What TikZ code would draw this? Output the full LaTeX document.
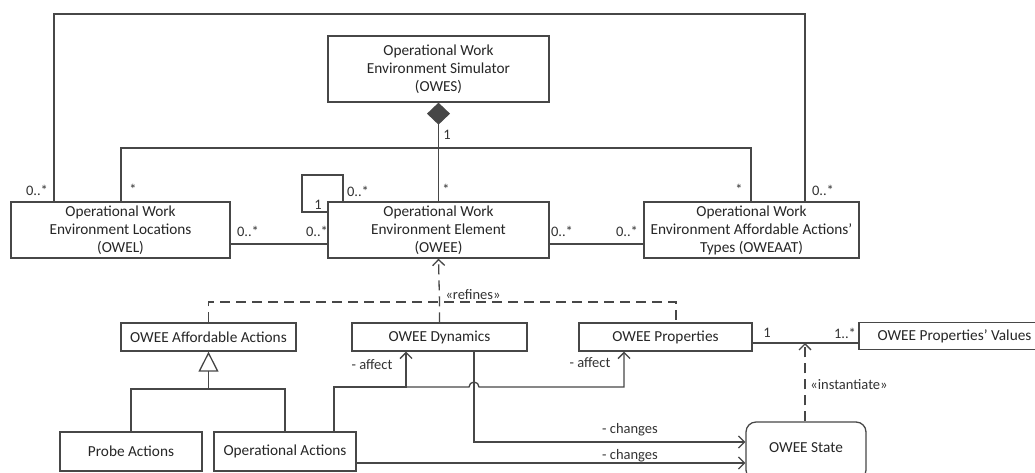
\documentclass[tikz,border=0pt]{standalone}
\usepackage{fontspec}
\setmainfont{Carlito}
\usetikzlibrary{arrows.meta}
\begin{document}
\begin{tikzpicture}[x=1pt,y=-1pt,
  ln/.style={line width=1.3pt,draw=black!72},
  dsh/.style={dash pattern=on 10pt off 6pt},
  cls/.style={ln,rectangle,fill=white,text=black!85,align=center,font=\fontsize{15.3}{18}\selectfont,inner sep=0pt},
  lbl/.style={text=black!80,font=\fontsize{14.5}{17}\selectfont,inner sep=0pt},
  openarr/.style={-{Straight Barb[length=6pt,width=12pt]}},
]
\clip (0,0) rectangle (1035,472);
\fill[white] (0,0) rectangle (1035,472);

% classes
\node[cls,minimum width=221pt,minimum height=66pt] (owes) at (438.5,69) {Operational Work\\Environment Simulator\\(OWES)};
\node[cls,minimum width=219pt,minimum height=56pt] (owel) at (120.5,230) {Operational Work\\Environment Locations\\(OWEL)};
\node[cls,minimum width=221pt,minimum height=56pt] (owee) at (438.5,230) {Operational Work\\Environment Element\\(OWEE)};
\node[cls,minimum width=215pt,minimum height=56pt] (oweaat) at (751.5,230) {Operational Work\\Environment Affordable Actions’\\Types (OWEAAT)};
\node[cls,minimum width=175pt,minimum height=28pt] (affact) at (208.5,337) {OWEE Affordable Actions};
\node[cls,minimum width=175pt,minimum height=28pt] (dyn) at (439.5,337) {OWEE Dynamics};
\node[cls,minimum width=173pt,minimum height=28pt] (prop) at (665.5,337) {OWEE Properties};
\node[cls,minimum width=191pt,minimum height=27pt] (vals) at (954.5,336) {OWEE Properties’ Values};
\node[cls,minimum width=142pt,minimum height=39pt] (probe) at (131,451.5) {Probe Actions};
\node[cls,minimum width=142pt,minimum height=39pt] (opact) at (285,451.5) {Operational Actions};
\node[cls,rounded corners=10pt,minimum width=120pt,minimum height=58pt] (state) at (806,451) {};
\node[lbl,text=black!85,font=\fontsize{15.3}{18}\selectfont] (statetxt) at (806,448) {OWEE State};

% junction coordinates
\coordinate (tl) at (54,14);
\coordinate (tr) at (805,14);
\coordinate (ml) at (121,148);
\coordinate (mr) at (751,148);
\coordinate (r1) at (439.5,302);
\coordinate (rl) at (208.5,302);
\coordinate (rr) at (676,302);
\coordinate (g0) at (208.5,389);
\coordinate (gl) at (131,389);
\coordinate (gr) at (285,389);
\coordinate (a0) at (334,387);
\coordinate (a1) at (406,387);
\coordinate (a2) at (624,387);
\coordinate (c1) at (474,442);
\coordinate (pv) at (805,343);

% associations
\draw[ln] (tl |- owel.north) -- (tl) -- (tr) -- (tr |- oweaat.north);
\draw[ln] (ml |- owel.north) -- (ml) -- (mr) -- (mr |- oweaat.north);
\draw[ln,-{Diamond[length=22pt,width=23pt]}] (owee.north) -- (owes.south);
\draw[ln] (343,0 |- owee.north) -- (343,175) -- (302,175) -- (302,212) -- (owee.west |- 0,212);
\draw[ln] (owel.east |- 0,244) -- (owee.west |- 0,244);
\draw[ln] (owee.east |- 0,244) -- (oweaat.west |- 0,244);

% refines
\draw[ln,dsh,openarr] (dyn.north) -- (r1) -- (owee.south);
\draw[ln,dsh] (affact.north) -- (rl) -- (rr) -- (rr |- prop.north);

% generalization
\draw[ln] (probe.north) -- (gl) -- (gr) -- (opact.north);
\draw[ln,-{Triangle[open,length=20pt,width=20pt]}] (g0) -- (affact.south);

% affect
\draw[ln,openarr] (a0 |- opact.north) -- (a0) -- (a1) -- (a1 |- dyn.south);
\draw[ln,openarr] (a1) -- (469,387) arc[start angle=180,end angle=0,radius=5pt] -- (a2) -- (a2 |- prop.south);

% changes
\draw[ln,openarr] (c1 |- dyn.south) -- (c1) -- (state.west |- c1);
\draw[ln,openarr] (opact.east |- 0,463) -- (state.west |- 0,463);

% properties - values
\draw[ln] (prop.east |- pv) -- (vals.west |- pv);
\draw[ln,dsh,openarr] (state.north -| pv) -- (pv);

% labels
\node[lbl] (l1) at (37,190) {0..*};
\node[lbl] (l2) at (133,189) {*};
\node[lbl] (l3) at (447,135) {1};
\node[lbl] (l4) at (446,189) {*};
\node[lbl] (l5) at (739,189) {*};
\node[lbl] (l6) at (823,190) {0..*};
\node[lbl] (l7) at (318,205) {1};
\node[lbl] (l8) at (358,191) {0..*};
\node[lbl] (l9) at (248,231) {0..*};
\node[lbl] (l10) at (317,231) {0..*};
\node[lbl] (l11) at (562,231) {0..*};
\node[lbl] (l12) at (627,231) {0..*};
\node[lbl] (l13) at (473,295) {«refines»};
\node[lbl] (l14) at (372,365) {- affect};
\node[lbl] (l15) at (590,363) {- affect};
\node[lbl] (l16) at (630,430) {- changes};
\node[lbl] (l17) at (630,456) {- changes};
\node[lbl] (l18) at (767,333) {1};
\node[lbl] (l19) at (845,333) {1..*};
\node[lbl] (l20) at (849,385) {«instantiate»};
\end{tikzpicture}
\end{document}
